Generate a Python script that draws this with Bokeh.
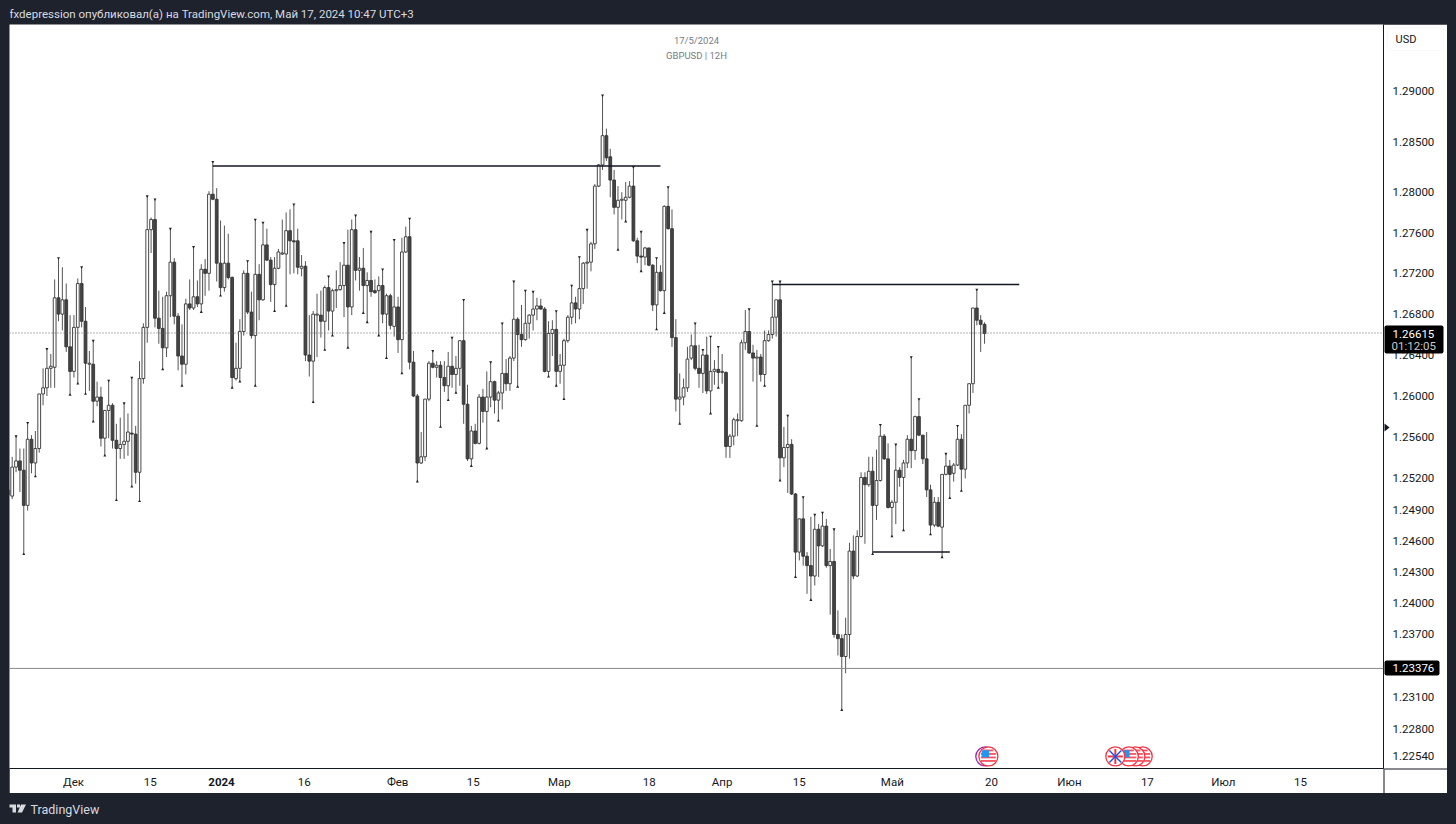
from bokeh.plotting import figure
from bokeh.embed import file_html
from bokeh.resources import INLINE
from bokeh.models import (FixedTicker, NumeralTickFormatter, Label, Span, BoxAnnotation,
                          PolyAnnotation, Range1d)

FONT = "Roboto"
DARK = "#1e222d"
INK = "#131722"

# ---- data (prices) -----------------------------------------------------------------------
direction = ("UUUDDUDUUU" "UUUDUDDUUD" "DUDUDUUDDU" "UUDDUUUUDD" "DUUDDDUDUD" "UDUDDDUDDU"
             "UUDDUDUDDU" "UUUDDDUDDU" "UDUDUUUUDU" "DUDUDDUDUD" "UDUUDDDUUU" "DUDDUDUUDD"
             "UDUDUUDUUD" "UUDDUUUUDD" "UUDUUUUDUU" "UUUUUDDDUU" "UUDDDUDDUD" "UDDDUUUUDD"
             "UDUUDUDUUU" "UUDDUDUUUU" "DUUDDUDDDU" "DUDUDDDUUD" "UUDUDUUDDU" "UDUUDUDDDD"
             "UDUUDUUDUU" "UDDD")

highs = [
1.2515,1.2541,1.2561,1.2549,1.2549,1.2574,1.2562,1.2566,1.2602,1.2627,
1.2646,1.2641,1.2714,1.2735,1.2726,1.2710,1.2679,1.2679,1.2715,1.2726,
1.2687,1.2644,1.2654,1.2614,1.2609,1.2586,1.2615,1.2593,1.2573,1.2579,
1.2593,1.2583,1.2618,1.2571,1.2634,1.2671,1.2796,1.2775,1.2793,1.2703,
1.2697,1.2702,1.2764,1.2735,1.2681,1.2670,1.2695,1.2714,1.2746,1.2713,
1.2729,1.2734,1.2801,1.2830,1.2804,1.2772,1.2767,1.2759,1.2717,1.2652,
1.2675,1.2723,1.2732,1.2702,1.2773,1.2729,1.2770,1.2764,1.2736,1.2736,
1.2744,1.2773,1.2780,1.2783,1.2788,1.2764,1.2738,1.2732,1.2679,1.2683,
1.2700,1.2703,1.2708,1.2717,1.2705,1.2723,1.2731,1.2750,1.2763,1.2773,
1.2777,1.2736,1.2745,1.2721,1.2761,1.2714,1.2717,1.2724,1.2700,1.2700,
1.2753,1.2697,1.2755,1.2766,1.2774,1.2644,1.2602,1.2565,1.2597,1.2634,
1.2644,1.2634,1.2634,1.2634,1.2643,1.2657,1.2639,1.2654,1.2694,1.2611,
1.2571,1.2573,1.2602,1.2607,1.2624,1.2633,1.2615,1.2605,1.2671,1.2636,
1.2639,1.2712,1.2677,1.2689,1.2703,1.2680,1.2702,1.2696,1.2695,1.2687,
1.2673,1.2674,1.2683,1.2641,1.2656,1.2679,1.2708,1.2697,1.2736,1.2731,
1.2763,1.2751,1.2808,1.2828,1.2896,1.2863,1.2843,1.2822,1.2806,1.2800,
1.2810,1.2811,1.2825,1.2755,1.2761,1.2746,1.2745,1.2729,1.2735,1.2728,
1.2787,1.2805,1.2783,1.2675,1.2622,1.2617,1.2648,1.2660,1.2671,1.2650,
1.2645,1.2658,1.2658,1.2635,1.2648,1.2641,1.2624,1.2563,1.2579,1.2583,
1.2655,1.2684,1.2685,1.2650,1.2645,1.2641,1.2664,1.2664,1.2712,1.2694,
1.2712,1.2570,1.2581,1.2558,1.2506,1.2481,1.2502,1.2449,1.2483,1.2485,
1.2476,1.2487,1.2481,1.2452,1.2471,1.2393,1.2370,1.2386,1.2458,1.2465,
1.2470,1.2526,1.2526,1.2541,1.2541,1.2548,1.2572,1.2563,1.2554,1.2499,
1.2553,1.2531,1.2538,1.2562,1.2638,1.2581,1.2597,1.2562,1.2565,1.2514,
1.2502,1.2502,1.2524,1.2544,1.2538,1.2535,1.2571,1.2563,1.2591,1.2612,
1.2686,1.2704,1.2679,1.2672]

body_tops = [
1.2509,1.2531,1.2537,1.2537,1.2528,1.2558,1.2558,1.2549,1.2602,1.2608,
1.2627,1.2629,1.2696,1.2696,1.2694,1.2694,1.2648,1.2667,1.2710,1.2710,
1.2673,1.2632,1.2631,1.2599,1.2599,1.2586,1.2591,1.2591,1.2557,1.2553,
1.2556,1.2565,1.2564,1.2563,1.2617,1.2667,1.2763,1.2773,1.2773,1.2676,
1.2666,1.2698,1.2731,1.2731,1.2678,1.2639,1.2690,1.2690,1.2697,1.2697,
1.2724,1.2724,1.2798,1.2798,1.2793,1.2730,1.2730,1.2730,1.2716,1.2627,
1.2663,1.2720,1.2720,1.2682,1.2719,1.2719,1.2748,1.2748,1.2733,1.2725,
1.2741,1.2740,1.2762,1.2762,1.2752,1.2752,1.2727,1.2727,1.2640,1.2680,
1.2680,1.2679,1.2706,1.2706,1.2703,1.2704,1.2708,1.2728,1.2728,1.2763,
1.2763,1.2725,1.2725,1.2713,1.2713,1.2703,1.2708,1.2708,1.2698,1.2698,
1.2687,1.2687,1.2741,1.2756,1.2756,1.2633,1.2600,1.2541,1.2597,1.2632,
1.2632,1.2630,1.2630,1.2618,1.2629,1.2629,1.2627,1.2654,1.2654,1.2592,
1.2566,1.2566,1.2599,1.2599,1.2599,1.2614,1.2614,1.2603,1.2622,1.2622,
1.2637,1.2675,1.2675,1.2660,1.2671,1.2679,1.2685,1.2688,1.2688,1.2685,
1.2661,1.2665,1.2665,1.2630,1.2654,1.2677,1.2691,1.2691,1.2705,1.2730,
1.2731,1.2749,1.2806,1.2827,1.2856,1.2856,1.2835,1.2812,1.2792,1.2793,
1.2795,1.2806,1.2806,1.2752,1.2737,1.2745,1.2745,1.2728,1.2721,1.2721,
1.2786,1.2786,1.2764,1.2657,1.2599,1.2608,1.2636,1.2649,1.2649,1.2627,
1.2640,1.2640,1.2624,1.2626,1.2626,1.2624,1.2623,1.2561,1.2577,1.2577,
1.2652,1.2663,1.2663,1.2642,1.2638,1.2638,1.2654,1.2660,1.2677,1.2694,
1.2694,1.2550,1.2553,1.2553,1.2505,1.2481,1.2481,1.2445,1.2436,1.2471,
1.2471,1.2474,1.2474,1.2440,1.2440,1.2370,1.2366,1.2370,1.2450,1.2450,
1.2464,1.2521,1.2521,1.2527,1.2527,1.2518,1.2561,1.2561,1.2539,1.2497,
1.2528,1.2528,1.2535,1.2558,1.2558,1.2580,1.2580,1.2562,1.2539,1.2509,
1.2497,1.2497,1.2524,1.2532,1.2532,1.2533,1.2558,1.2558,1.2591,1.2612,
1.2686,1.2686,1.2674,1.2670]

body_bottoms = [
1.2504,1.2503,1.2531,1.2528,1.2494,1.2494,1.2535,1.2535,1.2549,1.2602,
1.2608,1.2627,1.2628,1.2680,1.2680,1.2648,1.2624,1.2624,1.2667,1.2673,
1.2632,1.2631,1.2595,1.2595,1.2559,1.2559,1.2586,1.2557,1.2549,1.2549,
1.2553,1.2556,1.2563,1.2526,1.2526,1.2617,1.2667,1.2763,1.2676,1.2666,
1.2647,1.2647,1.2698,1.2678,1.2639,1.2631,1.2631,1.2686,1.2686,1.2690,
1.2690,1.2720,1.2720,1.2793,1.2730,1.2706,1.2706,1.2716,1.2618,1.2617,
1.2627,1.2663,1.2682,1.2659,1.2659,1.2694,1.2694,1.2733,1.2709,1.2709,
1.2725,1.2739,1.2739,1.2752,1.2751,1.2726,1.2725,1.2640,1.2634,1.2634,
1.2679,1.2673,1.2673,1.2683,1.2683,1.2703,1.2704,1.2708,1.2687,1.2687,
1.2723,1.2723,1.2708,1.2708,1.2702,1.2701,1.2703,1.2680,1.2680,1.2669,
1.2668,1.2655,1.2655,1.2741,1.2633,1.2600,1.2535,1.2535,1.2541,1.2597,
1.2628,1.2628,1.2618,1.2610,1.2610,1.2621,1.2621,1.2627,1.2592,1.2539,
1.2539,1.2554,1.2554,1.2585,1.2585,1.2599,1.2596,1.2596,1.2603,1.2612,
1.2612,1.2637,1.2660,1.2655,1.2655,1.2671,1.2679,1.2685,1.2685,1.2624,
1.2624,1.2661,1.2624,1.2624,1.2630,1.2654,1.2677,1.2685,1.2685,1.2705,
1.2730,1.2731,1.2749,1.2806,1.2827,1.2834,1.2812,1.2785,1.2785,1.2792,
1.2792,1.2795,1.2752,1.2737,1.2736,1.2736,1.2728,1.2689,1.2689,1.2703,
1.2703,1.2764,1.2657,1.2597,1.2597,1.2599,1.2608,1.2637,1.2627,1.2622,
1.2622,1.2605,1.2605,1.2624,1.2623,1.2623,1.2551,1.2551,1.2561,1.2576,
1.2576,1.2652,1.2642,1.2637,1.2637,1.2621,1.2621,1.2654,1.2660,1.2677,
1.2540,1.2540,1.2550,1.2505,1.2449,1.2449,1.2445,1.2436,1.2426,1.2426,
1.2455,1.2455,1.2436,1.2436,1.2370,1.2366,1.2349,1.2349,1.2370,1.2426,
1.2426,1.2464,1.2514,1.2514,1.2494,1.2494,1.2518,1.2539,1.2492,1.2492,
1.2497,1.2521,1.2521,1.2535,1.2547,1.2547,1.2562,1.2539,1.2509,1.2475,
1.2475,1.2474,1.2473,1.2524,1.2524,1.2525,1.2533,1.2529,1.2529,1.2591,
1.2612,1.2674,1.2670,1.2661]

lows = [
1.2498,1.2500,1.2526,1.2507,1.2447,1.2489,1.2525,1.2522,1.2545,1.2591,
1.2600,1.2608,1.2608,1.2673,1.2664,1.2643,1.2601,1.2618,1.2612,1.2667,
1.2602,1.2605,1.2575,1.2590,1.2551,1.2542,1.2559,1.2549,1.2499,1.2539,
1.2539,1.2542,1.2512,1.2515,1.2498,1.2612,1.2652,1.2740,1.2667,1.2651,
1.2626,1.2638,1.2677,1.2670,1.2625,1.2610,1.2621,1.2684,1.2684,1.2687,
1.2682,1.2698,1.2703,1.2792,1.2712,1.2698,1.2702,1.2714,1.2608,1.2615,
1.2614,1.2659,1.2680,1.2656,1.2610,1.2674,1.2693,1.2732,1.2692,1.2683,
1.2724,1.2738,1.2688,1.2719,1.2720,1.2719,1.2717,1.2634,1.2619,1.2594,
1.2638,1.2657,1.2645,1.2664,1.2659,1.2686,1.2703,1.2677,1.2647,1.2679,
1.2713,1.2703,1.2681,1.2672,1.2697,1.2700,1.2659,1.2671,1.2637,1.2665,
1.2658,1.2642,1.2622,1.2740,1.2626,1.2599,1.2517,1.2534,1.2537,1.2595,
1.2627,1.2618,1.2570,1.2604,1.2596,1.2608,1.2603,1.2610,1.2573,1.2537,
1.2532,1.2553,1.2553,1.2574,1.2549,1.2589,1.2583,1.2576,1.2587,1.2605,
1.2605,1.2634,1.2609,1.2648,1.2654,1.2656,1.2664,1.2674,1.2684,1.2623,
1.2619,1.2639,1.2610,1.2612,1.2597,1.2652,1.2670,1.2671,1.2675,1.2690,
1.2705,1.2722,1.2744,1.2805,1.2822,1.2831,1.2795,1.2778,1.2743,1.2773,
1.2771,1.2794,1.2751,1.2730,1.2722,1.2728,1.2727,1.2683,1.2665,1.2702,
1.2681,1.2763,1.2648,1.2585,1.2573,1.2591,1.2604,1.2635,1.2625,1.2608,
1.2603,1.2602,1.2583,1.2611,1.2608,1.2612,1.2540,1.2540,1.2552,1.2561,
1.2575,1.2645,1.2641,1.2614,1.2571,1.2614,1.2610,1.2653,1.2656,1.2658,
1.2518,1.2531,1.2506,1.2504,1.2425,1.2441,1.2436,1.2409,1.2403,1.2417,
1.2425,1.2454,1.2434,1.2389,1.2367,1.2350,1.2298,1.2333,1.2347,1.2423,
1.2425,1.2463,1.2457,1.2512,1.2447,1.2480,1.2517,1.2538,1.2491,1.2464,
1.2476,1.2512,1.2470,1.2530,1.2530,1.2538,1.2561,1.2534,1.2502,1.2466,
1.2473,1.2473,1.2444,1.2523,1.2501,1.2517,1.2532,1.2508,1.2520,1.2583,
1.2603,1.2669,1.2643,1.2651]

FIRST_BAR = -1
bar_index = list(range(FIRST_BAR, FIRST_BAR + len(highs)))

swing_high_bars = [1,4,9,12,18,21,25,29,31,35,37,41,47,52,61,63,65,73,82,86,89,93,96,99,103,109,114,117,
                   124,127,130,133,135,141,145,147,149,153,161,163,167,170,177,179,181,183,191,197,199,
                   201,205,208,210,213,225,229,233,235,242,245,250]
swing_low_bars = [3,6,15,17,19,21,24,27,31,33,39,44,49,54,57,59,63,68,71,78,81,83,87,91,92,95,97,101,105,
                  111,113,115,119,123,126,131,139,141,143,157,159,163,167,169,173,181,183,193,195,199,
                  203,207,215,223,228,231,238,241,243,246]

level_prices = [1.2826, 1.2709, 1.2449]
level_starts = [52, 197, 223]
level_ends = [168, 261, 243]

last_price = 1.26615
alert_price = 1.23376
last_price_label = "1.26615"
alert_price_label = "1.23376"
countdown = "01:12:05"

price_ticks = [1.29, 1.285, 1.28, 1.276, 1.272, 1.268, 1.264, 1.26, 1.256, 1.252, 1.249, 1.246, 1.243,
               1.24, 1.237, 1.231, 1.228, 1.2254]
time_ticks = [15.9, 35.8, 75.7, 99.9, 119.5, 141.8, 165.1, 184.0, 204.0, 228.1, 253.8, 274.0, 294.2, 313.9, 333.9]
time_labels = ["Дек", "15", "16", "Фев", "15", "Мар", "18", "Апр", "15", "Май", "20", "Июн", "17", "Июл", "15"]
year_label = "2024"

event_bars = [293.0, 291.1, 289.4, 285.9]
event_kinds = ["US", "US", "US", "UK"]
event_price = 1.2254

# ---- main chart: white canvas on the dark page ---------------------------------------------
p = figure(width=1438, height=769, output_backend="svg", toolbar_location=None, margin=(24, 9, 31, 9),
           y_axis_type="log", y_axis_location="right",
           x_range=Range1d(-0.7, 355.4), y_range=Range1d(1.22426, 1.29669),
           min_border_left=0, min_border_right=64, min_border_top=0, min_border_bottom=25,
           border_fill_color="white", background_fill_color="white", outline_line_color=None)
p.grid.visible = False

ax = p.yaxis[0]
ax.ticker = FixedTicker(ticks=price_ticks)
ax.formatter = NumeralTickFormatter(format="0.00000")
ax.major_tick_line_color = None
ax.minor_tick_line_color = None
ax.axis_line_color = INK
ax.major_label_text_font = FONT
ax.major_label_text_font_size = "11.5px"
ax.major_label_text_color = INK
ax.major_label_standoff = 3

xa = p.xaxis[0]
xa.ticker = FixedTicker(ticks=time_ticks)
xa.major_label_overrides = dict(zip(time_ticks, time_labels))
xa.major_tick_line_color = None
xa.minor_tick_line_color = None
xa.axis_line_color = INK
xa.major_label_text_font = FONT
xa.major_label_text_font_size = "11.5px"
xa.major_label_text_color = INK
xa.major_label_standoff = 0

p.add_layout(Span(location=last_price, dimension="width", line_color="#666666", line_width=1, line_dash="1 2"))
p.add_layout(Span(location=alert_price, dimension="width", line_color="#8a8a8a", line_width=1))

up = [d == "U" for d in direction]
down = [not u for u in up]
def pick(seq, flags):
    return [s for s, f in zip(seq, flags) if f]
p.segment(bar_index, lows, bar_index, highs, line_color="#555555", line_width=1)
p.vbar(pick(bar_index, up), 0.72, pick(body_bottoms, up), pick(body_tops, up),
       fill_color="white", line_color="#333333", line_width=0.9)
p.vbar(pick(bar_index, down), 0.72, pick(body_bottoms, down), pick(body_tops, down),
       fill_color="#444444", line_color="#333333", line_width=0.9)

p.scatter(swing_high_bars, [highs[b - FIRST_BAR] for b in swing_high_bars],
          marker="inverted_triangle", size=3, fill_color="#222222", line_color=None)
p.scatter(swing_low_bars, [lows[b - FIRST_BAR] for b in swing_low_bars],
          marker="triangle", size=3, fill_color="#222222", line_color=None)

p.segment(level_starts, level_prices, level_ends, level_prices, line_color=INK, line_width=1.5)

PX = 1 / 3.859
PY = 0.0000945
def flag(bar, kind):
    p.scatter([bar], [event_price], marker="circle", size=19, fill_color="white", line_color="#f23645", line_width=1.3)
    if kind == "US":
        for dy, hw in ((-6, 5), (-2.5, 7.5), (1, 7.5), (4.5, 7.5)):
            p.rect([bar], [event_price - dy * PY], width=2 * hw, height=1.8,
                   width_units="screen", height_units="screen", fill_color="#f7525f", line_color=None)
        p.rect([bar - 3 * PX], [event_price + 2.7 * PY], width=7.5, height=7, width_units="screen",
               height_units="screen", fill_color="#2196f3", line_color=None)
    else:
        p.rect([bar], [event_price], width=15, height=2, width_units="screen", height_units="screen",
               fill_color="#f23645", line_color=None)
        p.rect([bar], [event_price], width=2, height=15, width_units="screen", height_units="screen",
               fill_color="#f23645", line_color=None)
        for a in (45, -45):
            p.rect([bar], [event_price], width=17, height=1.5, width_units="screen", height_units="screen",
                   angle=a, angle_units="deg", fill_color="#1e53e5", line_color=None)
p.scatter([252.2], [event_price], marker="circle", size=19, fill_color="white", line_color="#9c27b0", line_width=1.3)
flag(253.0, "US")
for bar, kind in zip(event_bars, event_kinds):
    flag(bar, kind)

# ---- transparent overlay covering the whole page, for what lies outside the plot frame -------
PAGE_W, PAGE_H = 1456, 824
o = figure(frame_width=PAGE_W, frame_height=PAGE_H, output_backend="svg", toolbar_location=None,
           x_axis_type=None, y_axis_type=None, x_range=Range1d(0, PAGE_W), y_range=Range1d(0, PAGE_H),
           min_border_left=0, min_border_right=0, min_border_top=0, min_border_bottom=0,
           background_fill_alpha=0, border_fill_alpha=0, outline_line_color=None,
           styles={"position": "absolute", "left": "0px", "top": "0px", "z-index": "10", "pointer-events": "none"})
o.grid.visible = False

def ty(page_y):
    return PAGE_H - page_y

def label(x, y, text, color, size, align="left", **kw):
    o.add_layout(Label(x=x, y=ty(y), x_units="screen", y_units="screen", text=text,
                       text_color=color, text_font=FONT, text_font_size=size, text_align=align,
                       text_baseline="middle", **kw))

def box(l, r, t, b, fill=None, line=None, radius=0):
    o.add_layout(BoxAnnotation(left=l, right=r, top=ty(t), bottom=ty(b), left_units="screen", right_units="screen",
                               top_units="screen", bottom_units="screen", fill_color=fill, fill_alpha=1 if fill else 0,
                               line_color=line, border_radius=radius))

def poly(xs, ys, color):
    o.add_layout(PolyAnnotation(xs=xs, ys=[ty(v) for v in ys], xs_units="screen", ys_units="screen", fill_color=color,
                                fill_alpha=1, line_color=None))

label(9, 13, "fxdepression опубликовал(а) на TradingView.com, Май 17, 2024 10:47 UTC+3", "#d8dae0", "11.5px")
label(696, 40, "17/5/2024", "#787b86", "9.5px", "center")
label(696, 55, "GBPUSD | 12H", "#787b86", "9.5px", "center")
box(1387, 1443, 27, 50, line="#e6e9f0", radius=4)
label(1395, 39, "USD", INK, "11px")
label(221, 781, year_label, INK, "11.5px", "center", text_font_style="bold")

box(1383, 1384, 768, 793, fill=INK)
box(1384, 1447, 768, 769, fill=INK)
box(1384, 1443, 325, 353, fill="black", radius=2)
label(1392, 333, last_price_label, "white", "11.5px")
label(1391, 345, countdown, "#c8c8c8", "11.5px")
box(1384, 1439, 660, 675, fill="black", radius=2)
label(1392, 667.5, alert_price_label, "white", "11.5px")
poly([1384, 1389, 1384], [423, 427, 431], INK)

label(30, 809, "TradingView", "#d8dae0", "12.5px")
poly([9, 15.5, 15.5, 12, 12, 9], [804, 804, 812, 812, 807, 807], "#d8dae0")
poly([16.5, 19.5, 19.5, 16.5], [804, 804, 807, 807], "#d8dae0")
poly([20.5, 25.5, 21.5, 17], [804, 804, 812, 812], "#d8dae0")

html = file_html([p, o], INLINE)
html = html.replace("</head>", "<style>html,body{background:%s}</style></head>" % DARK, 1)
open("out.html", "w").write(html)
